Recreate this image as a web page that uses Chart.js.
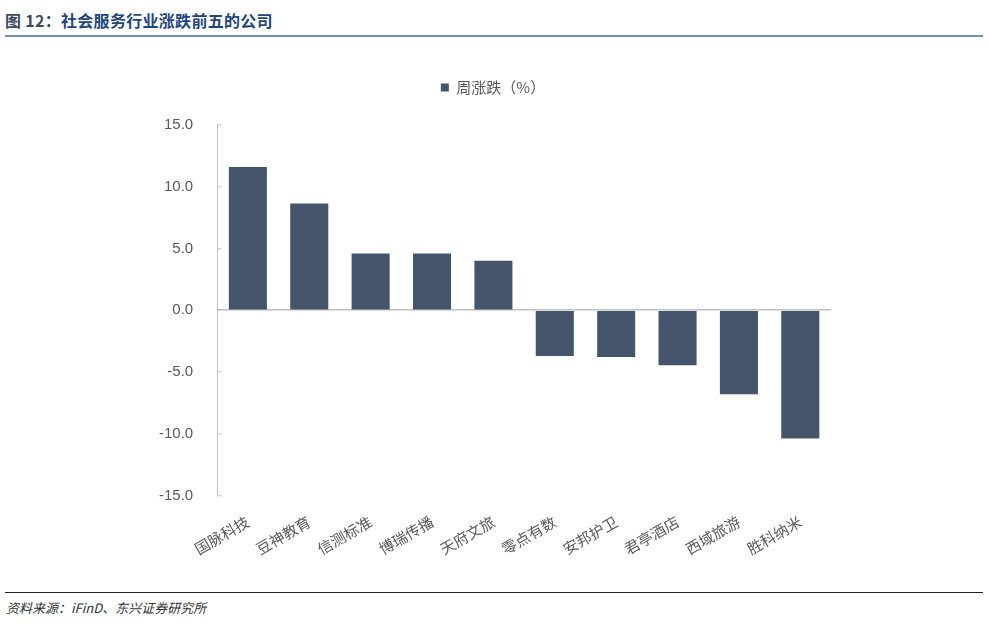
<!DOCTYPE html>
<html>
<head>
<meta charset="utf-8">
<script src="https://cdn.jsdelivr.net/npm/chart.js@4"></script>
<style>
    body { margin: 0; width: 989px; height: 623px; background: #fff; position: relative; overflow: hidden; font-family: "Noto Sans CJK SC", "Liberation Sans", sans-serif; }
    .title { position: absolute; left: 5px; top: 8px; font-size: 16px; font-weight: bold; color: #1f4680; letter-spacing: 0.3px; }
    .title span { color: #3d4a5c; }
    .title-line { position: absolute; left: 5px; top: 35px; width: 978px; height: 2px; background: #6f93b5; }
    .chart-box { position: absolute; left: 0; top: 45px; width: 989px; height: 540px; }
    .foot-line { position: absolute; left: 5px; top: 592px; width: 978px; height: 1px; background: #222; }
    .source { position: absolute; left: 6px; top: 598px; font-size: 13px; font-style: italic; color: #333; }
</style>
</head>
<body>
<div class="title"><span>图 12：</span>社会服务行业涨跌前五的公司</div>
<div class="title-line"></div>
<div class="chart-box"><canvas id="weeklyChart"></canvas></div>
<div class="foot-line"></div>
<div class="source">资料来源：iFinD、东兴证券研究所</div>

<script>
// Data
const companies = ['国脉科技', '豆神教育', '信测标准', '博瑞传播', '天府文旅', '零点有数', '安邦护卫', '君亭酒店', '西域旅游', '胜科纳米'];
const weeklyChange = [11.6, 8.65, 4.6, 4.6, 4.0, -3.7, -3.8, -4.45, -6.8, -10.4];
const seriesName = '周涨跌（%）';
const yTicks = [-15, -10, -5, 0, 5, 10, 15];

const barColor = '#44546A';
const textColor = '#595959';
const axisColor = '#BFBFBF';

// Extra room between legend and plot area, and nudge legend to the right
const legendTweak = {
    id: 'legendTweak',
    beforeInit(chart) {
        const fit = chart.legend.fit;
        chart.legend.fit = function() {
            fit.bind(chart.legend)();
            this.height += 20;
        };
    },
    afterLayout(chart) {
        chart.legend.left += 12;
        chart.legend.right += 12;
    }
};

function initializeChart() {
    const ctx = document.getElementById('weeklyChart').getContext('2d');

    new Chart(ctx, {
        type: 'bar',
        data: {
            labels: companies,
            datasets: [{
                label: seriesName,
                data: weeklyChange,
                backgroundColor: barColor,
                borderWidth: 0,
                categoryPercentage: 1,
                barPercentage: 0.62
            }]
        },
        options: {
            responsive: true,
            maintainAspectRatio: false,
            animation: false,
            layout: {
                padding: { top: 25, left: 131, right: 158, bottom: 10 }
            },
            plugins: {
                legend: {
                    position: 'top',
                    labels: {
                        color: textColor,
                        boxWidth: 8,
                        boxHeight: 8,
                        font: { family: '"Noto Sans CJK SC"', size: 15 }
                    }
                },
                tooltip: { enabled: false }
            },
            scales: {
                y: {
                    min: yTicks[0],
                    max: yTicks[yTicks.length - 1],
                    afterBuildTicks: function(scale) {
                        scale.ticks = yTicks.map(v => ({ value: v }));
                    },
                    border: { color: axisColor, width: 1 },
                    grid: {
                        color: c => (c.tick && c.tick.value === 0) ? axisColor : 'rgba(0,0,0,0)',
                        lineWidth: 1.5,
                        tickLength: -4,
                        tickColor: axisColor,
                        tickWidth: 1
                    },
                    ticks: {
                        color: textColor,
                        padding: 28,
                        font: { family: '"Liberation Sans", Arial', size: 15 },
                        callback: v => v.toFixed(1)
                    }
                },
                x: {
                    border: { display: false },
                    grid: { display: false, drawTicks: false },
                    ticks: {
                        color: textColor,
                        minRotation: 30,
                        maxRotation: 30,
                        padding: 17,
                        font: { family: '"Noto Sans CJK SC"', size: 15 }
                    }
                }
            }
        },
        plugins: [legendTweak]
    });
}

document.addEventListener('DOMContentLoaded', initializeChart);
</script>
</body>
</html>
